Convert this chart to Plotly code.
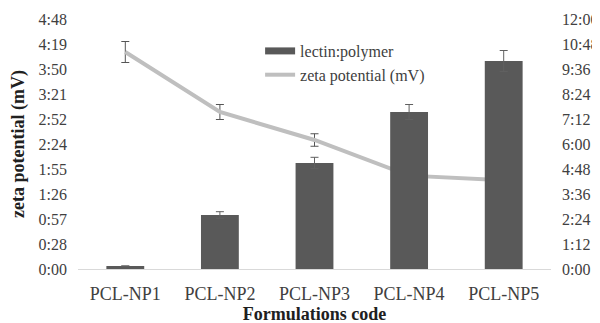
import plotly.graph_objects as go

categories = ["PCL-NP1", "PCL-NP2", "PCL-NP3", "PCL-NP4", "PCL-NP5"]
lectin_polymer = [0.006, 0.108, 0.212, 0.314, 0.416]
lectin_err = [0.0, 0.0066, 0.0114, 0.015, 0.021]
zeta = [0.1736, 0.1256, 0.1032, 0.0747, 0.0710]
zeta_err = [0.0084, 0.006, 0.005, 0.0, 0.0]

left_vals = [0, 0.02, 0.04, 0.06, 0.08, 0.10, 0.12, 0.14, 0.16, 0.18, 0.20]
left_text = ["0:00", "0:28", "0:57", "1:26", "1:55", "2:24", "2:52", "3:21", "3:50", "4:19", "4:48"]
right_vals = [0, 0.05, 0.10, 0.15, 0.20, 0.25, 0.30, 0.35, 0.40, 0.45, 0.50]
right_text = ["0:00", "1:12", "2:24", "3:36", "4:48", "6:00", "7:12", "8:24", "9:36", "10:48", "12:00"]

font = "Liberation Serif"
bar_color = "#595959"

fig = go.Figure()
fig.add_trace(go.Bar(
    x=categories, y=lectin_polymer, name="lectin:polymer", yaxis="y2", showlegend=False,
    marker=dict(color=bar_color, line=dict(width=0)),
    error_y=dict(type="data", array=lectin_err, visible=True, color="#606060", thickness=1, width=4),
))
fig.add_trace(go.Scatter(
    x=[None], y=[None], name="lectin:polymer", mode="lines", yaxis="y2",
    line=dict(color=bar_color, width=7), showlegend=True,
))
fig.add_trace(go.Scatter(
    x=categories, y=zeta, name="zeta potential (mV)", yaxis="y", mode="lines",
    line=dict(color="#bfbfbf", width=4),
    error_y=dict(type="data", array=zeta_err, visible=True, color="#555555", thickness=1, width=4),
))

# page body has an 8px default margin; compensate so the plot area sits at x 78..551, y 19..269
fig.update_layout(
    width=600, height=323,
    margin=dict(l=70, r=57, t=11, b=62),
    paper_bgcolor="white", plot_bgcolor="white",
    font=dict(family=font, size=16, color="#404040"),
    bargap=0.6,
    showlegend=True,
    legend=dict(x=0.385, y=0.94, xanchor="left", yanchor="top", bgcolor="rgba(0,0,0,0)",
                font=dict(family=font, size=16, color="#404040"), itemwidth=30),
    xaxis=dict(showline=True, linecolor="#d9d9d9", linewidth=1, ticks="", showgrid=False,
               automargin=False, ticklabelstandoff=8,
               tickfont=dict(family=font, size=18, color="#404040"),
               title=dict(text="<b>Formulations code</b>", standoff=2,
                          font=dict(family=font, size=18, color="#202020"))),
    yaxis=dict(range=[0, 0.2], tickvals=left_vals, ticktext=left_text, showgrid=False,
               zeroline=False, showline=False, ticks="", automargin=False, ticklabelstandoff=10,
               tickfont=dict(family=font, size=16, color="#404040"),
               title=dict(text="<b>zeta potential (mV)</b>", standoff=14,
                          font=dict(family=font, size=18, color="#202020"))),
    yaxis2=dict(range=[0, 0.5], tickvals=right_vals, ticktext=right_text, overlaying="y",
                side="right", showgrid=False, zeroline=False, showline=False, ticks="",
                automargin=False, ticklabelstandoff=10,
                tickfont=dict(family=font, size=16, color="#404040")),
)

fig.write_html("out.html")
